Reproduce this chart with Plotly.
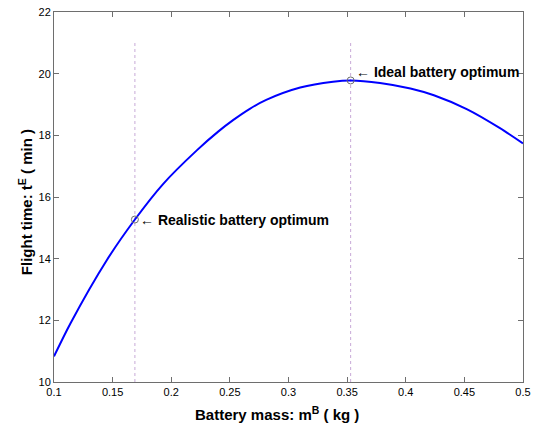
import plotly.graph_objects as go

# Curve: battery mass (kg) vs flight time (min)
mass_kg = [0.100, 0.114, 0.145, 0.169, 0.193, 0.222, 0.240, 0.253, 0.267, 0.281, 0.310,
           0.338, 0.353, 0.378, 0.404, 0.424, 0.452, 0.480, 0.500]
flight_min = [10.83, 11.90, 13.95, 15.27, 16.42, 17.52, 18.12, 18.50, 18.86, 19.15, 19.55,
              19.74, 19.78, 19.70, 19.52, 19.30, 18.85, 18.24, 17.74]

# Optimum points
opt_mass = [0.169, 0.353]
opt_time = [15.27, 19.78]
opt_labels = ["<b>← Realistic battery optimum</b>", "<b>← Ideal battery optimum</b>"]
label_y = [15.27, 20.06]

# Vertical marker lines span
vline_y = [10, 21]

x_ticks = [0.1, 0.15, 0.2, 0.25, 0.3, 0.35, 0.4, 0.45, 0.5]
x_ticktext = ["0.1", "0.15", "0.2", "0.25", "0.3", "0.35", "0.4", "0.45", "0.5"]
y_ticks = [10, 12, 14, 16, 18, 20, 22]

x_title = "<b>Battery mass: m<sup>B</sup> ( kg )</b>"
y_title = "<b>Flight time: t<sup>E</sup> ( min )</b>"

FONT = "Liberation Sans, Arial, sans-serif"

fig = go.Figure()

for xm in opt_mass:
    fig.add_trace(go.Scatter(x=[xm, xm], y=vline_y, mode="lines",
                             line=dict(color="rgb(200,170,215)", width=1, dash="dot"),
                             showlegend=False, hoverinfo="skip"))

fig.add_trace(go.Scatter(x=mass_kg, y=flight_min, mode="lines",
                         line=dict(color="rgb(0,0,255)", width=2, shape="spline", smoothing=0.8),
                         showlegend=False))

fig.add_trace(go.Scatter(x=opt_mass, y=opt_time, mode="markers",
                         marker=dict(symbol="circle-open", size=7, color="rgb(110,110,110)",
                                     line=dict(width=1)),
                         showlegend=False))

for xm, ly, txt in zip(opt_mass, label_y, opt_labels):
    fig.add_annotation(x=xm, y=ly, text=txt, showarrow=False, xanchor="left", yanchor="middle",
                       xshift=3, font=dict(family=FONT, size=14, color="black"))

# axis titles
fig.add_annotation(xref="paper", yref="paper", x=0.475, y=0, yshift=-31, text=x_title,
                   showarrow=False, xanchor="center", yanchor="middle",
                   font=dict(family=FONT, size=15, color="black"))
fig.add_annotation(xref="paper", yref="paper", x=0, y=0.486, xshift=-29, text=y_title,
                   textangle=-90, showarrow=False, xanchor="center", yanchor="middle",
                   font=dict(family=FONT, size=15, color="black"))

axis_common = dict(showline=True, linecolor="rgb(110,110,110)", linewidth=1, mirror="ticks",
                   ticks="inside", ticklen=5, tickcolor="rgb(110,110,110)", showgrid=False,
                   zeroline=False, automargin=False, ticklabeloverflow="allow",
                   tickfont=dict(family=FONT, size=11, color="black"))

fig.update_xaxes(range=[0.1, 0.5], tickvals=x_ticks, ticktext=x_ticktext, **axis_common)
fig.update_yaxes(range=[10, 22], tickvals=y_ticks, **axis_common)

fig.update_layout(width=534, height=423, margin=dict(l=54, r=11, t=12, b=41),
                  plot_bgcolor="white", paper_bgcolor="white")

# remove the page's default body margin so the figure fills the window exactly
fig.write_html("out.html", config={"displayModeBar": False},
               post_script="document.body.style.margin='0';")
